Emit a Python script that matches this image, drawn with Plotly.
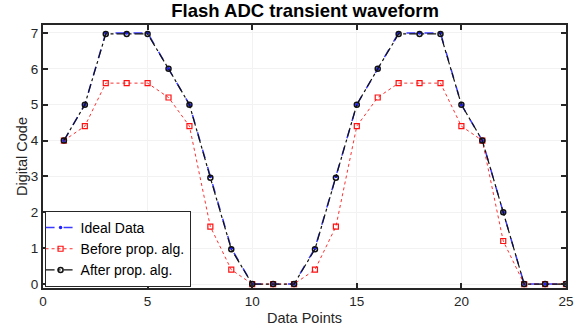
import plotly.graph_objects as go

x_points = list(range(1, 26))
ideal_data = [4, 5, 7, 7, 7, 6, 5, 3, 1, 0, 0, 0, 1, 3, 5, 6, 7, 7, 7, 5, 4, 2, 0, 0, 0]
before_alg = [4, 4.4, 5.6, 5.6, 5.6, 5.2, 4.4, 1.6, 0.4, 0, 0, 0, 0.4, 1.6, 4.4, 5.2, 5.6, 5.6, 5.6, 4.4, 4.0, 1.2, 0, 0, 0]
after_alg = [4, 5, 6.97, 6.97, 6.97, 6, 5, 2.96, 0.97, 0, 0, 0, 0.97, 2.96, 5, 6, 6.97, 6.97, 6.97, 5, 4, 2, 0, 0, 0]
x_ticks = [0, 5, 10, 15, 20, 25]
y_ticks = [0, 1, 2, 3, 4, 5, 6, 7]

FONT = "Liberation Sans, Arial"

fig = go.Figure()
fig.add_trace(go.Scatter(x=x_points, y=ideal_data, name="Ideal Data", mode="lines+markers",
                         line=dict(color="#3a3aff", dash="dash", width=1.5),
                         marker=dict(symbol="circle", size=3.5, color="#2020ff")))
fig.add_trace(go.Scatter(x=x_points, y=before_alg, name="Before prop. alg.", mode="lines+markers",
                         line=dict(color="#ff3030", dash="dot", width=1),
                         marker=dict(symbol="square-open", size=5, color="#ff1010", line=dict(width=1.2))))
fig.add_trace(go.Scatter(x=x_points, y=after_alg, name="After prop. alg.", mode="lines+markers",
                         line=dict(color="#111111", dash="dashdot", width=1.2),
                         marker=dict(symbol="circle-open", size=5, color="#111111", line=dict(width=1.5))))

axis_common = dict(showline=True, linecolor="#262626", linewidth=2, mirror="ticks",
                   ticks="inside", ticklen=5, tickwidth=2, tickcolor="#262626",
                   showgrid=True, gridcolor="#f2f2f2", gridwidth=1, zeroline=False,
                   automargin=False,
                   tickfont=dict(family=FONT, size=13.5, color="#262626"))

fig.update_layout(
    width=579, height=329,
    margin=dict(l=43, r=13, t=25, b=41),
    paper_bgcolor="white", plot_bgcolor="white",
    title=dict(text="<b>Flash ADC transient waveform</b>", x=0.527, xanchor="center", y=0.968, yanchor="middle",
               font=dict(family=FONT, size=18.5, color="black")),
    xaxis=dict(range=[0, 25], tickvals=x_ticks,
               title=dict(text="Data Points", standoff=5, font=dict(family=FONT, size=14.5, color="#262626")),
               **axis_common),
    yaxis=dict(range=[-0.11, 7.22], tickvals=y_ticks,
               title=dict(text="Digital Code", standoff=0, font=dict(family=FONT, size=14.5, color="#262626")),
               **axis_common),
    legend=dict(x=0.003, y=0.004, xanchor="left", yanchor="bottom",
                bgcolor="white", bordercolor="#262626", borderwidth=1,
                font=dict(family=FONT, size=14, color="black"),
                tracegroupgap=0, itemwidth=30, indentation=-5),
    showlegend=True,
)

fig.write_html("out.html", config={"displayModeBar": False},
               post_script="document.body.style.margin='0';document.body.style.overflow='hidden';")
